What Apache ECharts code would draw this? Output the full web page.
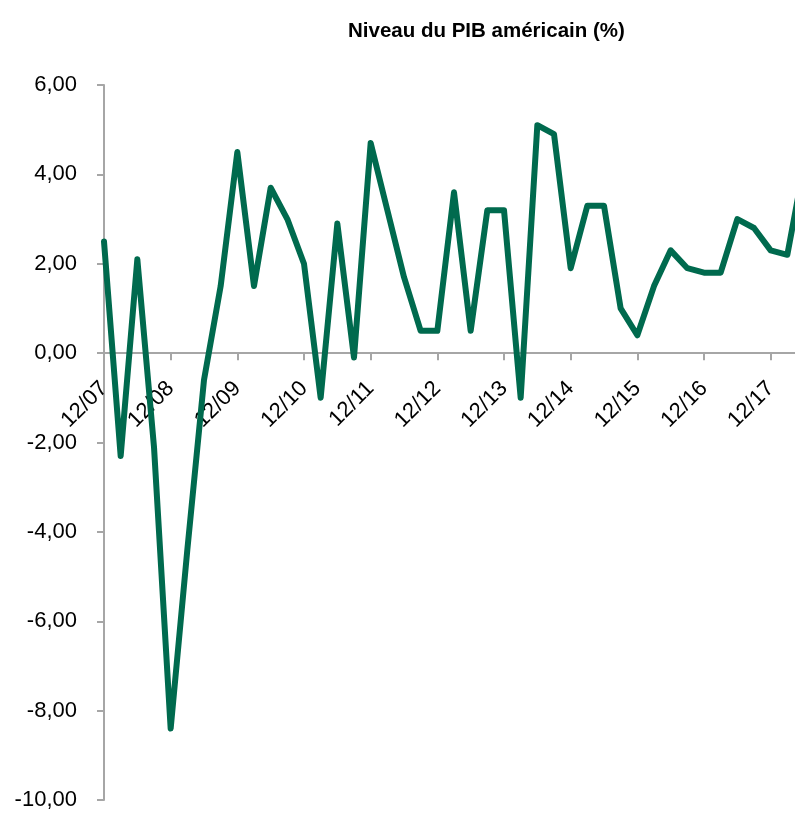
<!DOCTYPE html>
<html>
<head>
<meta charset="utf-8">
<script src="https://cdn.jsdelivr.net/npm/echarts@6/dist/echarts.min.js"></script>
<style>
  html, body { margin: 0; padding: 0; background: #fff; }
  #chart { width: 795px; height: 817px; }
</style>
</head>
<body>
<div id="chart"></div>
<script>
  // trimestres (fin de période)
  var quarters = [
    '12/07', '03/08', '06/08', '09/08', '12/08', '03/09', '06/09', '09/09',
    '12/09', '03/10', '06/10', '09/10', '12/10', '03/11', '06/11', '09/11',
    '12/11', '03/12', '06/12', '09/12', '12/12', '03/13', '06/13', '09/13',
    '12/13', '03/14', '06/14', '09/14', '12/14', '03/15', '06/15', '09/15',
    '12/15', '03/16', '06/16', '09/16', '12/16', '03/17', '06/17', '09/17',
    '12/17', '03/18', '06/18'
  ]
  // croissance du PIB (%)
  var gdp = [
    2.5, -2.3, 2.1, -2.1, -8.4, -4.4, -0.6, 1.5,
    4.5, 1.5, 3.7, 3.0, 2.0, -1.0, 2.9, -0.1,
    4.7, 3.2, 1.7, 0.5, 0.5, 3.6, 0.5, 3.2,
    3.2, -1.0, 5.1, 4.9, 1.9, 3.3, 3.3, 1.0,
    0.4, 1.5, 2.3, 1.9, 1.8, 1.8, 3.0, 2.8,
    2.3, 2.2, 4.2
  ]

  var yMin = -10
  var yMax = 6

  var chart = echarts.init(document.getElementById('chart'))
  var axisGrey = '#a6a6a6'
  var font = 'Liberation Sans, Arial, sans-serif'

  var gridTop = 85
  var gridBottom = 17
  var gridH = 817 - gridTop - gridBottom
  // décalage pour placer les libellés sous la ligne du zéro
  var zeroOffset = -gridH * (0 - yMin) / (yMax - yMin)

  chart.setOption({
    animation: false,
    title: {
      text: 'Niveau du PIB américain (%)',
      left: 343,
      top: 16,
      textStyle: {
        fontFamily: font,
        fontSize: 20.5,
        fontWeight: 'bold',
        color: '#000'
      }
    },
    grid: {
      left: 104,
      right: -9,
      top: gridTop,
      bottom: gridBottom,
      containLabel: false,
      outerBoundsMode: 'none'
    },
    xAxis: [
      {
        type: 'category',
        data: quarters,
        boundaryGap: false,
        axisLine: {onZero: true, lineStyle: {color: axisGrey, width: 2}},
        axisTick: {show: true, interval: 3, length: 7, lineStyle: {color: axisGrey, width: 2}},
        axisLabel: {show: false},
        splitLine: {show: false}
      },
      {
        type: 'category',
        data: quarters,
        boundaryGap: false,
        position: 'bottom',
        offset: zeroOffset,
        axisLine: {show: false, onZero: false},
        axisTick: {show: false},
        axisLabel: {
          interval: 3,
          rotate: 45,
          margin: 32,
          fontFamily: font,
          fontSize: 22,
          color: '#000'
        },
        splitLine: {show: false}
      }
    ],
    yAxis: {
      type: 'value',
      min: yMin,
      max: yMax,
      interval: 2,
      axisLine: {show: true, lineStyle: {color: axisGrey, width: 2}},
      axisTick: {show: true, length: 7, lineStyle: {color: axisGrey, width: 2}},
      axisLabel: {
        margin: 27,
        fontFamily: font,
        fontSize: 22,
        color: '#000',
        formatter: function (v) {
          return v.toFixed(2).replace('.', ',')
        }
      },
      splitLine: {show: false}
    },
    series: [
      {
        type: 'line',
        data: gdp,
        xAxisIndex: 0,
        showSymbol: false,
        symbol: 'none',
        lineStyle: {
          color: '#006a4e',
          width: 6,
          join: 'round',
          cap: 'round'
        }
      }
    ]
  })
</script>
</body>
</html>
